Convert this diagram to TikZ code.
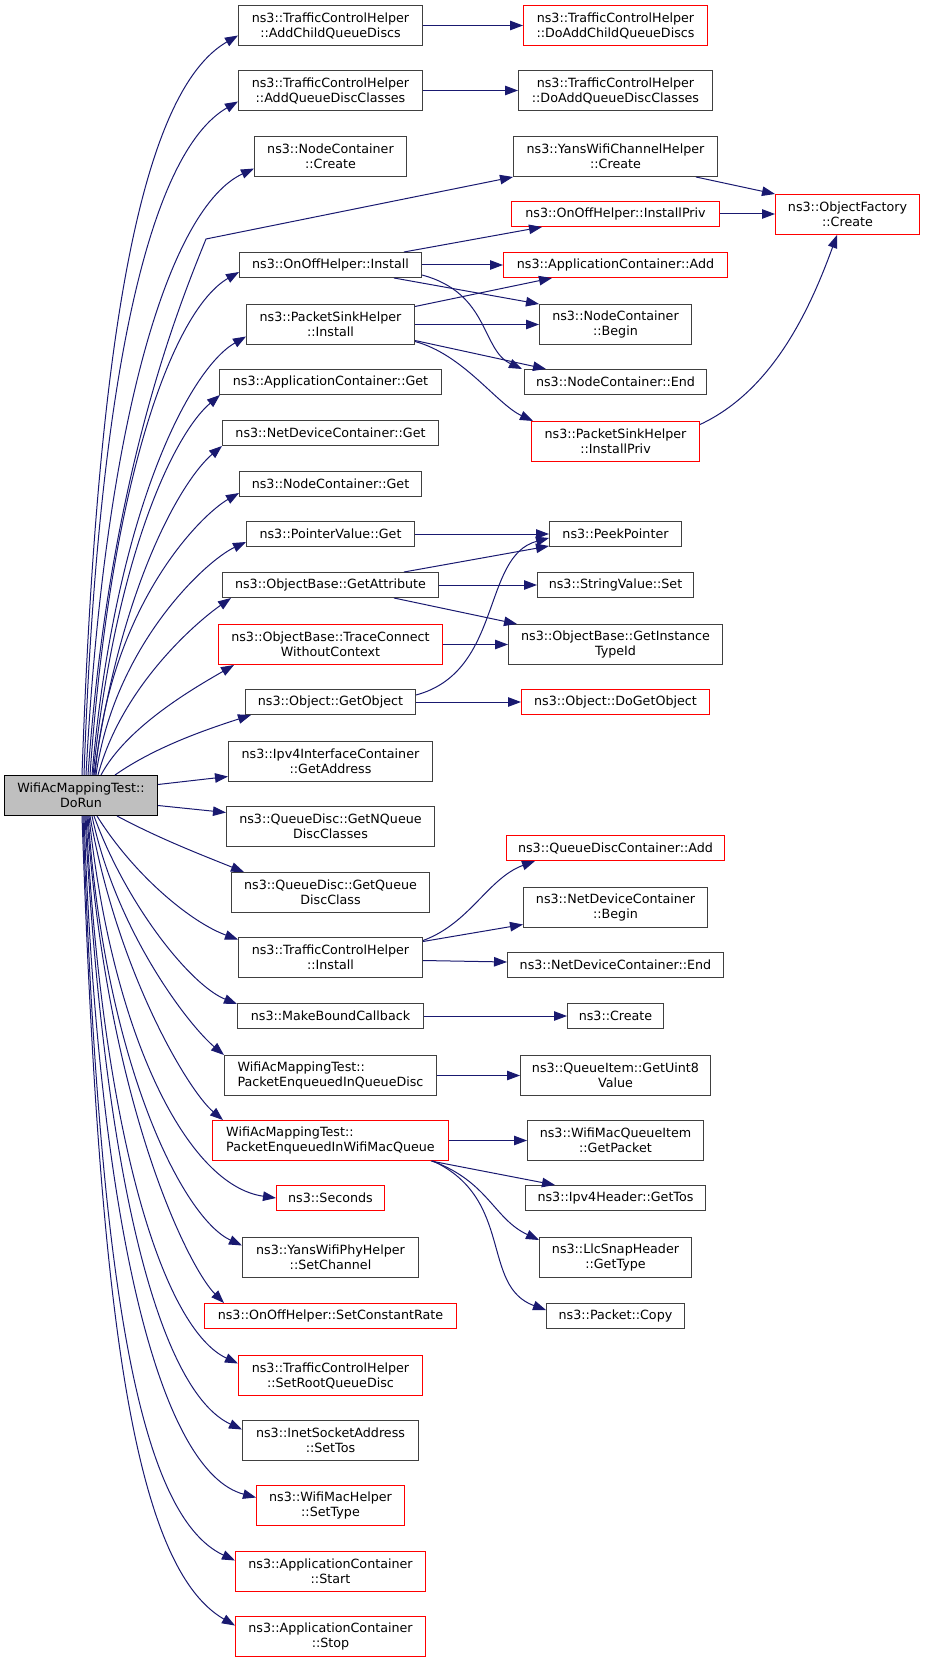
\documentclass[tikz,border=0pt]{standalone}
\usepackage{fontspec}
\setmainfont{DejaVu Sans}
\usetikzlibrary{arrows.meta}
\definecolor{edgeblue}{HTML}{191970}
\definecolor{boxgray}{HTML}{404040}
\definecolor{rootfill}{HTML}{BFBFBF}
\tikzset{
  fn/.style={draw=boxgray, fill=white, line width=1pt, inner sep=2pt, align=center,
    font=\fontsize{12.7}{15}\selectfont},
  hot/.style={fn, draw=red},
  root/.style={fn, draw=black, fill=rootfill},
  one/.style={minimum height=25},
  two/.style={minimum height=40},
  call/.style={draw=edgeblue, line width=1pt, -{Triangle[length=13pt,width=9.5pt]}},
}
\begin{document}
\begin{tikzpicture}[x=1pt,y=1pt]
  \useasboundingbox (0,0) rectangle (925,-1661);
  % caller
  \node[root,two,minimum width=153] (dorun) at (81,-795.5) {WifiAcMappingTest::\\DoRun};
  % direct callees
  \node[fn,two,minimum width=184] (addchild) at (330.5,-25.5) {ns3::TrafficControlHelper\\::AddChildQueueDiscs};
  \node[fn,two,minimum width=184] (addclasses) at (330.5,-90.5) {ns3::TrafficControlHelper\\::AddQueueDiscClasses};
  \node[fn,two,minimum width=152] (ncreate) at (330.5,-156.5) {ns3::NodeContainer\\::Create};
  \node[fn,one,minimum width=182] (onoffinst) at (330.5,-265) {ns3::OnOffHelper::Install};
  \node[fn,two,minimum width=168] (sinkinst) at (330.5,-324.5) {ns3::PacketSinkHelper\\::Install};
  \node[fn,one,minimum width=222] (appget) at (330.5,-382) {ns3::ApplicationContainer::Get};
  \node[fn,one,minimum width=216] (ndget) at (330.5,-433) {ns3::NetDeviceContainer::Get};
  \node[fn,one,minimum width=182] (nget) at (330.5,-484) {ns3::NodeContainer::Get};
  \node[fn,one,minimum width=168] (ptrget) at (330.5,-534) {ns3::PointerValue::Get};
  \node[fn,one,minimum width=216] (getattr) at (330.5,-585) {ns3::ObjectBase::GetAttribute};
  \node[hot,two,minimum width=224] (trace) at (330.5,-644.5) {ns3::ObjectBase::TraceConnect\\WithoutContext};
  \node[fn,one,minimum width=170] (getobj) at (330.5,-702) {ns3::Object::GetObject};
  \node[fn,two,minimum width=204] (getaddr) at (330.5,-761.5) {ns3::Ipv4InterfaceContainer\\::GetAddress};
  \node[fn,two,minimum width=208] (getnq) at (330.5,-826.5) {ns3::QueueDisc::GetNQueue\\DiscClasses};
  \node[fn,two,minimum width=198] (getqdc) at (330.5,-892.5) {ns3::QueueDisc::GetQueue\\DiscClass};
  \node[fn,two,minimum width=184] (tchinst) at (330.5,-957.5) {ns3::TrafficControlHelper\\::Install};
  \node[fn,one,minimum width=186] (mkcb) at (330.5,-1016) {ns3::MakeBoundCallback};
  \node[fn,two,align=left,minimum width=212] (enqdisc) at (330.5,-1075.5) {WifiAcMappingTest::\\PacketEnqueuedInQueueDisc};
  \node[hot,two,align=left,minimum width=236] (enqmac) at (330.5,-1140.5) {WifiAcMappingTest::\\PacketEnqueuedInWifiMacQueue};
  \node[hot,one,minimum width=108] (seconds) at (330.5,-1198) {ns3::Seconds};
  \node[fn,two,minimum width=176] (setchan) at (330.5,-1257.5) {ns3::YansWifiPhyHelper\\::SetChannel};
  \node[hot,one,minimum width=252] (setrate) at (330.5,-1316) {ns3::OnOffHelper::SetConstantRate};
  \node[hot,two,minimum width=184] (setroot) at (330.5,-1375.5) {ns3::TrafficControlHelper\\::SetRootQueueDisc};
  \node[fn,two,minimum width=176] (settos) at (330.5,-1440.5) {ns3::InetSocketAddress\\::SetTos};
  \node[hot,two,minimum width=148] (settype) at (330.5,-1505.5) {ns3::WifiMacHelper\\::SetType};
  \node[hot,two,minimum width=190] (appstart) at (330.5,-1571.5) {ns3::ApplicationContainer\\::Start};
  \node[hot,two,minimum width=190] (appstop) at (330.5,-1636.5) {ns3::ApplicationContainer\\::Stop};
  % second level
  \node[hot,two,minimum width=184] (doaddchild) at (615.5,-25.5) {ns3::TrafficControlHelper\\::DoAddChildQueueDiscs};
  \node[fn,two,minimum width=194] (doaddclasses) at (615.5,-90.5) {ns3::TrafficControlHelper\\::DoAddQueueDiscClasses};
  \node[fn,two,minimum width=204] (yanscreate) at (615.5,-156.5) {ns3::YansWifiChannelHelper\\::Create};
  \node[hot,one,minimum width=208] (onoffpriv) at (615.5,-214) {ns3::OnOffHelper::InstallPriv};
  \node[hot,one,minimum width=224] (appadd) at (615.5,-265) {ns3::ApplicationContainer::Add};
  \node[fn,two,minimum width=152] (nbegin) at (615.5,-324.5) {ns3::NodeContainer\\::Begin};
  \node[fn,one,minimum width=182] (nend) at (615.5,-382) {ns3::NodeContainer::End};
  \node[hot,two,minimum width=168] (sinkpriv) at (615.5,-441.5) {ns3::PacketSinkHelper\\::InstallPriv};
  \node[fn,one,minimum width=132] (peek) at (615.5,-534) {ns3::PeekPointer};
  \node[fn,one,minimum width=156] (strset) at (615.5,-585) {ns3::StringValue::Set};
  \node[fn,two,minimum width=214] (typeid) at (615.5,-644.5) {ns3::ObjectBase::GetInstance\\TypeId};
  \node[hot,one,minimum width=188] (dogetobj) at (615.5,-702) {ns3::Object::DoGetObject};
  \node[hot,one,minimum width=218] (qdcadd) at (615.5,-848) {ns3::QueueDiscContainer::Add};
  \node[fn,two,minimum width=184] (ndbegin) at (615.5,-907.5) {ns3::NetDeviceContainer\\::Begin};
  \node[fn,one,minimum width=216] (ndend) at (615.5,-965) {ns3::NetDeviceContainer::End};
  \node[fn,one,minimum width=96] (create) at (615.5,-1016) {ns3::Create};
  \node[fn,two,minimum width=190] (uint8) at (615.5,-1075.5) {ns3::QueueItem::GetUint8\\Value};
  \node[fn,two,minimum width=176] (getpacket) at (615.5,-1140.5) {ns3::WifiMacQueueItem\\::GetPacket};
  \node[fn,one,minimum width=180] (gettos) at (615.5,-1198) {ns3::Ipv4Header::GetTos};
  \node[fn,two,minimum width=152] (gettype) at (615.5,-1257.5) {ns3::LlcSnapHeader\\::GetType};
  \node[fn,one,minimum width=138] (copy) at (615.5,-1316) {ns3::Packet::Copy};
  % third level
  \node[hot,two,minimum width=144] (ofcreate) at (847.5,-214.5) {ns3::ObjectFactory\\::Create};
  \coordinate (yansbend) at (206,-239);

  % calls going up
  \draw[call] ([xshift=1]dorun.north) .. controls +(88:444) and +(210:111) .. ([yshift=-10]addchild.west);
  \draw[call] ([xshift=3]dorun.north) .. controls +(88:404) and +(210:101) .. ([yshift=-11]addclasses.west);
  \draw[call] ([xshift=5]dorun.north) .. controls +(87:364) and +(205:91) .. ([yshift=-12]ncreate.west);
  \draw[call] ([xshift=7]dorun.north) .. controls +(86:300) and +(248:70) .. (yansbend) -- (yanscreate.south west);
  \draw[call] ([xshift=9]dorun.north) .. controls +(86:300) and +(210:75) .. ([yshift=-7]onoffinst.west);
  \draw[call] ([xshift=11]dorun.north) .. controls +(85:263) and +(210:66) .. ([yshift=-12]sinkinst.west);
  \draw[call] ([xshift=12]dorun.north) .. controls +(84:228) and +(220:57) .. ([xshift=1]appget.south west);
  \draw[call] ([xshift=13]dorun.north) .. controls +(82:197) and +(220:50) .. (ndget.south west);
  \draw[call] ([xshift=14]dorun.north) .. controls +(85:170) and +(210:45) .. ([yshift=-9]nget.west);
  \draw[call] ([xshift=15]dorun.north) .. controls +(82:130) and +(205:45) .. ([yshift=-8]ptrget.west);
  \draw[call] ([xshift=17]dorun.north) .. controls +(75:90) and +(215:45) .. ([xshift=9]getattr.south west);
  \draw[call] ([xshift=20]dorun.north) .. controls +(62:55) and +(210:45) .. ([xshift=16]trace.south west);
  \draw[call] ([xshift=34]dorun.north) .. controls +(35:50) and +(198:45) .. ([xshift=6]getobj.south west);
  \draw[call] ([yshift=11]dorun.east) -- ([yshift=-15]getaddr.west);
  \draw[call] ([yshift=-10]dorun.east) -- ([yshift=14]getnq.west);
  % calls going down
  \draw[call] ([xshift=36]dorun.south) .. controls +(-28:50) and +(158:45) .. ([xshift=13]getqdc.north west);
  \draw[call] ([xshift=16]dorun.south) .. controls +(-58:70) and +(160:50) .. ([yshift=18]tchinst.west);
  \draw[call] ([xshift=13]dorun.south) .. controls +(-70:95) and +(158:50) .. ([yshift=12]mkcb.west);
  \draw[call] ([xshift=11]dorun.south) .. controls +(-78:120) and +(140:45) .. (enqdisc.north west);
  \draw[call] ([xshift=9]dorun.south) .. controls +(-80:160) and +(140:45) .. ([xshift=11]enqmac.north west);
  \draw[call] ([xshift=8]dorun.south) .. controls +(-84:220) and +(172:90) .. (seconds.west);
  \draw[call] ([xshift=7]dorun.south) .. controls +(-86:250) and +(155:65) .. ([yshift=12]setchan.west);
  \draw[call] ([xshift=6]dorun.south) .. controls +(-86:290) and +(135:50) .. ([xshift=20]setrate.north west);
  \draw[call] ([xshift=5]dorun.south) .. controls +(-87:330) and +(155:80) .. ([yshift=12]setroot.west);
  \draw[call] ([xshift=4]dorun.south) .. controls +(-87:370) and +(155:90) .. ([yshift=11]settos.west);
  \draw[call] ([xshift=3]dorun.south) .. controls +(-88:410) and +(165:100) .. ([yshift=8]settype.west);
  \draw[call] ([xshift=2]dorun.south) .. controls +(-88:450) and +(155:110) .. ([yshift=11]appstart.west);
  \draw[call] ([xshift=1]dorun.south) .. controls +(-88:486) and +(150:120) .. ([yshift=11]appstop.west);

  % second level calls
  \draw[call] (addchild) -- (doaddchild);
  \draw[call] (addclasses) -- (doaddclasses);
  \draw[call] ([xshift=-22]yanscreate.south east) -- (ofcreate.north west);
  \draw[call] (onoffpriv) -- (onoffpriv -| ofcreate.west);
  \draw[call] ([xshift=-18]onoffinst.north east) -- ([xshift=31]onoffpriv.south west);
  \draw[call] (onoffinst) -- (appadd);
  \draw[call] ([xshift=-28]onoffinst.south east) -- (nbegin.north west);
  \draw[call] ([yshift=-10]onoffinst.east) .. controls +(-15:70) and +(155:45) .. ([xshift=-2]nend.north west);
  \draw[call] ([yshift=18]sinkinst.east) -- ([xshift=49]appadd.south west);
  \draw[call] (sinkinst) -- (nbegin);
  \draw[call] ([yshift=-16]sinkinst.east) -- ([xshift=22]nend.north west);
  \draw[call] ([yshift=-17]sinkinst.east) .. controls +(-15:50) and +(155:40) .. ([xshift=2]sinkpriv.north west);
  \draw[call] ([yshift=17]sinkpriv.east) .. controls +(25:80) and +(250:80) .. ([xshift=62]ofcreate.south west);
  \draw[call] (ptrget) -- (peek);
  \draw[call] ([xshift=-35]getattr.north east) -- ([yshift=-12]peek.west);
  \draw[call] (getattr) -- (strset);
  \draw[call] ([xshift=-45]getattr.south east) -- ([xshift=9]typeid.north west);
  \draw[call] (trace) -- (typeid);
  \draw[call] ([yshift=7]getobj.east) .. controls +(15:90) and +(195:70) .. ([yshift=-4]peek.west);
  \draw[call] (getobj) -- (dogetobj);
  \draw[call] ([yshift=17]tchinst.east) .. controls +(20:50) and +(200:50) .. ([xshift=29]qdcadd.south west);
  \draw[call] ([yshift=16]tchinst.east) -- ([yshift=-17]ndbegin.west);
  \draw[call] ([yshift=-3]tchinst.east) -- ([yshift=3]ndend.west);
  \draw[call] (mkcb) -- (create);
  \draw[call] (enqdisc) -- (uint8);
  \draw[call] (enqmac) -- (getpacket);
  \draw[call] ([xshift=-18]enqmac.south east) -- ([xshift=30]gettos.north west);
  \draw[call] ([xshift=-17]enqmac.south east) .. controls +(-20:60) and +(155:50) .. ([yshift=-3]gettype.north west);
  \draw[call] ([xshift=-16]enqmac.south east) .. controls +(-25:90) and +(160:70) .. ([yshift=6]copy.west);
\end{tikzpicture}
\end{document}
